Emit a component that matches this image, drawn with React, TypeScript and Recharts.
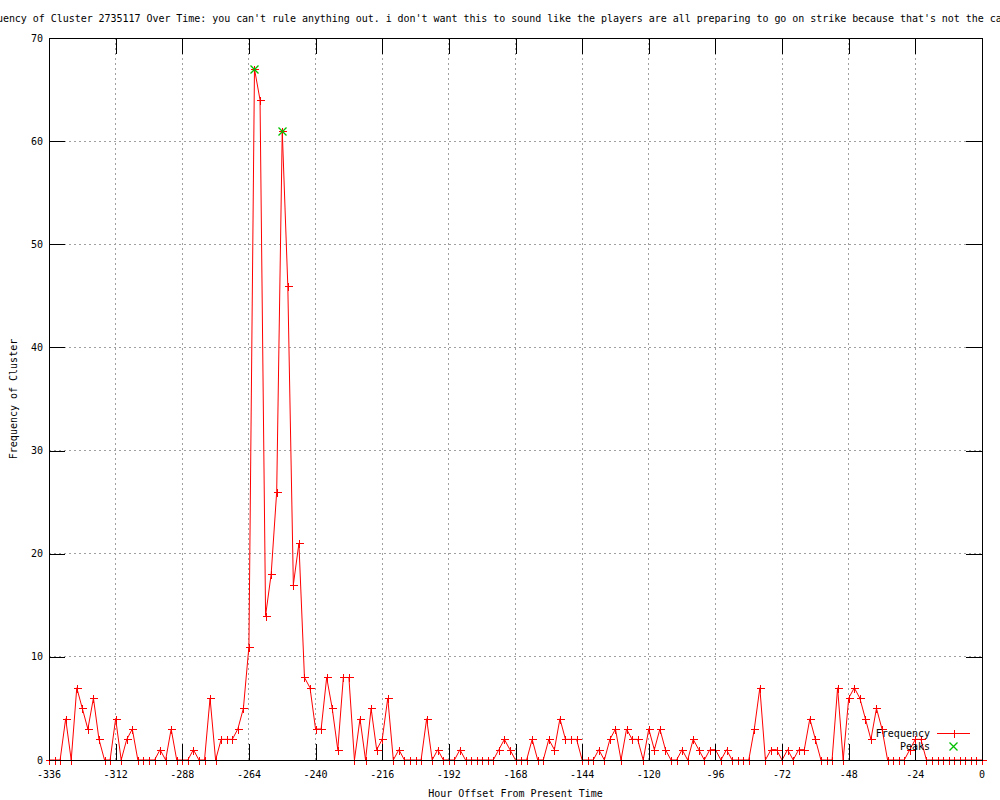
import { LineChart, Line, XAxis, YAxis, CartesianGrid } from 'recharts'

// hours run from -336 to 0 in 2 hour steps, one row per 24 hours
const START_HOUR = -336
const STEP_HOURS = 2
const FREQUENCY = [
  0, 0, 0, 4, 0, 7, 5, 3, 6, 2, 0, 0,
  4, 0, 2, 3, 0, 0, 0, 0, 1, 0, 3, 0,
  0, 0, 1, 0, 0, 6, 0, 2, 2, 2, 3, 5,
  11, 67, 64, 14, 18, 26, 61, 46, 17, 21, 8, 7,
  3, 3, 8, 5, 1, 8, 8, 0, 4, 0, 5, 1,
  2, 6, 0, 1, 0, 0, 0, 0, 4, 0, 1, 0,
  0, 0, 1, 0, 0, 0, 0, 0, 0, 1, 2, 1,
  0, 0, 0, 2, 0, 0, 2, 1, 4, 2, 2, 2,
  0, 0, 0, 1, 0, 2, 3, 0, 3, 2, 2, 0,
  3, 1, 3, 1, 0, 0, 1, 0, 2, 1, 0, 1,
  1, 0, 1, 0, 0, 0, 0, 3, 7, 0, 1, 1,
  0, 1, 0, 1, 1, 4, 2, 0, 0, 0, 7, 0,
  6, 7, 6, 4, 2, 5, 3, 0, 0, 0, 0, 1,
  2, 2, 0, 0, 0, 0, 0, 0, 0, 0, 0, 0,
  0,
]
const PEAK_HOURS = [-262, -252]

const X_TICKS = [-336, -312, -288, -264, -240, -216, -192, -168, -144, -120, -96, -72, -48, -24, 0]
const Y_TICKS = [0, 10, 20, 30, 40, 50, 60, 70]

const TITLE =
  "Frequency of Cluster 2735117 Over Time: you can't rule anything out. i don't want this to sound like the players are all preparing to go on strike because that's not the case"
const X_LABEL = 'Hour Offset From Present Time'
const Y_LABEL = 'Frequency of Cluster'

const data = FREQUENCY.map((v, i) => {
  const hour = START_HOUR + i * STEP_HOURS
  return { hour, freq: v, peak: PEAK_HOURS.includes(hour) ? v : null }
})

const W = 1000
const H = 800
const LEFT = 49
const RIGHT = 982
const TOP = 38
const BOTTOM = 760
const TICK_LEN = 16
const FONT = "'DejaVu Sans Mono', monospace"
const RED = '#ff0000'
const GREEN = '#00c000'

const px = (v: number) => Math.round(v) + 0.5

// red "+" for every point, green "x" on top where the point is a peak
function PointDot(props: any) {
  const { cx, cy, index, payload } = props
  if (cx == null || cy == null) return <g key={`p${index}`} />
  const x = px(cx)
  const y = px(cy)
  return (
    <g key={`p${index}`}>
      <path d={`M${x - 4} ${y}H${x + 4}M${x} ${y - 4}V${y + 4}`}
        stroke={RED} strokeWidth={1} fill="none" shapeRendering="crispEdges" />
      {payload?.peak != null && (
        <path d={`M${x - 4} ${y - 4}L${x + 4} ${y + 4}M${x - 4} ${y + 4}L${x + 4} ${y - 4}`}
          stroke={GREEN} strokeWidth={1.3} fill="none" />
      )}
    </g>
  )
}

function XTick(props: any) {
  const { x, payload } = props
  const cx = px(x)
  return (
    <g>
      <line x1={cx} x2={cx} y1={BOTTOM} y2={BOTTOM - TICK_LEN} stroke="#000" shapeRendering="crispEdges" />
      <line x1={cx} x2={cx} y1={TOP} y2={TOP + TICK_LEN} stroke="#000" shapeRendering="crispEdges" />
      <text x={x} y={778} textAnchor="middle" fontFamily={FONT} fontSize={10} fill="#000">
        {payload.value}
      </text>
    </g>
  )
}

function YTick(props: any) {
  const { y, payload } = props
  const cy = px(y)
  return (
    <g>
      <line x1={LEFT} x2={LEFT + TICK_LEN} y1={cy} y2={cy} stroke="#000" shapeRendering="crispEdges" />
      <line x1={RIGHT} x2={RIGHT - TICK_LEN} y1={cy} y2={cy} stroke="#000" shapeRendering="crispEdges" />
      <text x={43} y={y + 3.5} textAnchor="end" fontFamily={FONT} fontSize={10} fill="#000">
        {payload.value}
      </text>
    </g>
  )
}

export default function App() {
  return (
    <div style={{ position: 'absolute', left: 0, top: 0, width: W, height: H, background: '#fff', overflow: 'hidden' }}>
      <LineChart width={W} height={H} data={data}
        margin={{ top: TOP, right: W - RIGHT, bottom: 10, left: 9 }}>
        <CartesianGrid stroke="#a0a0a0" strokeDasharray="2 3" shapeRendering="crispEdges" />
        <XAxis dataKey="hour" type="number" domain={[-336, 0]} ticks={X_TICKS} interval={0}
          height={30} axisLine={false} tickLine={false} tick={<XTick />} />
        <YAxis type="number" domain={[0, 70]} ticks={Y_TICKS} interval={0}
          width={40} axisLine={false} tickLine={false} tick={<YTick />} />
        <Line type="linear" dataKey="freq" name="Frequency" stroke={RED} strokeWidth={1} dot={PointDot}
          activeDot={false} isAnimationActive={false} />
      </LineChart>
      <svg width={W} height={H} style={{ position: 'absolute', left: 0, top: 0, pointerEvents: 'none' }}>
        <rect x={LEFT + 0.5} y={TOP + 0.5} width={RIGHT - LEFT} height={BOTTOM - TOP}
          fill="none" stroke="#000" shapeRendering="crispEdges" />
        <text x={-27} y={22} fontFamily={FONT} fontSize={10} letterSpacing={-0.04} fill="#000">{TITLE}</text>
        <text x={(LEFT + RIGHT) / 2} y={797} textAnchor="middle" fontFamily={FONT} fontSize={10} fill="#000">
          {X_LABEL}
        </text>
        <text x={17} y={(TOP + BOTTOM) / 2} textAnchor="middle" fontFamily={FONT} fontSize={10} fill="#000"
          transform={`rotate(-90 17 ${(TOP + BOTTOM) / 2})`}>
          {Y_LABEL}
        </text>
        <text x={930} y={737} textAnchor="end" fontFamily={FONT} fontSize={10} fill="#000">Frequency</text>
        <line x1={937} x2={970} y1={733.5} y2={733.5} stroke={RED} shapeRendering="crispEdges" />
        <path d="M950.5 733.5H958.5M954.5 729.5V737.5" stroke={RED} fill="none" shapeRendering="crispEdges" />
        <text x={930} y={750} textAnchor="end" fontFamily={FONT} fontSize={10} fill="#000">Peaks</text>
        <path d="M949.5 742.5L957.5 750.5M949.5 750.5L957.5 742.5" stroke={GREEN} strokeWidth={1.3} fill="none" />
      </svg>
    </div>
  )
}
